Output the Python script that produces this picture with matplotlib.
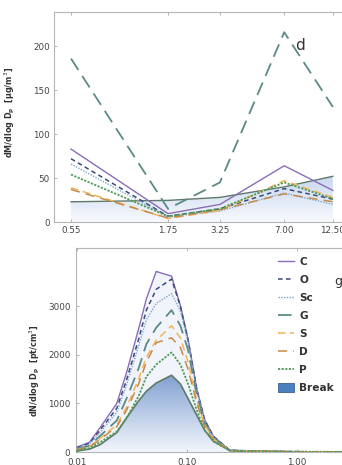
import numpy as np
import matplotlib
matplotlib.use("Agg")
import matplotlib.pyplot as plt
from matplotlib.patches import Polygon, Patch
from matplotlib.lines import Line2D
from matplotlib.colors import LinearSegmentedColormap

# ---------------- data ----------------
series = ["C", "O", "Sc", "G", "S", "D", "P"]

# top panel (mass distribution)
dm_x = [0.55, 1.75, 3.25, 7.00, 12.50]
dm_tick_labels = ["0.55", "1.75", "3.25", "7.00", "12.50"]
dm_C = [83, 9.5, 20, 64, 36]
dm_O = [72, 6.5, 15, 38, 26]
dm_Sc = [66, 6, 12.5, 33, 20]
dm_G = [186, 15, 45, 216, 131]
dm_S = [39, 4, 13, 47, 28]
dm_D = [37, 4.5, 14, 32, 23]
dm_P = [54, 6.5, 15, 45, 26.5]
dm_Break = [23, 24.6, 28, 40, 52]

# bottom panel (number distribution)
dn_x = [0.0100, 0.0130, 0.0162, 0.0230, 0.0282, 0.0363, 0.0427, 0.0525, 0.0724,
        0.0871, 0.1023, 0.1230, 0.1445, 0.1738, 0.2455, 0.35, 0.50, 0.70, 1.00,
        1.50, 2.50, 4.00]
dn_C = [100, 200, 500, 1000, 1634, 2531, 3152, 3717, 3620, 3014, 2324, 1290, 669, 324, 34, 25, 15, 10, 6, 4, 3, 2]
dn_O = [90, 180, 450, 900, 1480, 2320, 2920, 3350, 3560, 3000, 2300, 1280, 660, 320, 34, 25, 15, 10, 6, 4, 3, 2]
dn_Sc = [80, 160, 400, 820, 1380, 2180, 2720, 3060, 3260, 2900, 2250, 1250, 640, 310, 32, 24, 14, 9, 6, 4, 3, 2]
dn_G = [60, 130, 330, 650, 1100, 1720, 2220, 2560, 2920, 2600, 2100, 1150, 600, 290, 30, 22, 13, 8, 5, 4, 3, 2]
dn_S = [50, 110, 280, 560, 920, 1500, 1950, 2300, 2600, 2350, 1850, 1050, 560, 270, 28, 20, 12, 8, 5, 4, 3, 2]
dn_D = [45, 100, 260, 520, 860, 1400, 1850, 2250, 2350, 2150, 1700, 1000, 520, 250, 26, 20, 12, 8, 5, 4, 3, 2]
dn_P = [30, 80, 200, 420, 700, 1150, 1550, 1800, 2050, 1800, 1400, 850, 450, 220, 25, 18, 11, 7, 5, 3, 2, 2]
dn_Break = [20, 60, 150, 400, 700, 1050, 1250, 1420, 1580, 1400, 1100, 750, 450, 220, 30, 18, 10, 6, 4, 3, 2, 1]
dn_ticks = [0.01, 0.10, 1.00]
dn_tick_labels = ["0.01", "0.10", "1.00"]

# ---------------- styles ----------------
styles = {
    "C": dict(color="#8a6cb8", lw=1.0, ls="-"),
    "O": dict(color="#3b4a78", lw=1.1, dashes=(3.0, 2.2)),
    "Sc": dict(color="#7fa6cc", lw=1.0, dashes=(1.0, 1.0)),
    "G": dict(color="#5b8a85", lw=1.3, dashes=(7.5, 4.0)),
    "S": dict(color="#f2b45a", lw=1.1, dashes=(5.0, 3.0)),
    "D": dict(color="#c58a4a", lw=1.1, dashes=(6.0, 4.0)),
    "P": dict(color="#4f9a58", lw=1.3, dashes=(1.2, 0.8)),
}
break_color = "#5f7a68"

fig = plt.figure(figsize=(3.42, 4.65), dpi=100)
W, H = 342.0, 465.0
tick_kw = dict(labelsize=6.3, labelcolor="#444444", color="#aaaaaa", length=2, direction="in", width=0.6)


def style_frame(ax):
    for sp in ax.spines.values():
        sp.set_color("#b5b5b5")
        sp.set_linewidth(0.8)


def gradient_fill(ax, x, y, ymax, c_top, c_bot, xlim):
    cmap = LinearSegmentedColormap.from_list("g", [c_bot, c_top])
    grad = np.linspace(0, 1, 256).reshape(-1, 1)
    im = ax.imshow(grad, aspect="auto", cmap=cmap, origin="lower",
                   extent=[xlim[0], xlim[1], 0, ymax], zorder=1, interpolation="bilinear")
    verts = [(x[0], 0)] + list(zip(x, y)) + [(x[-1], 0)]
    poly = Polygon(verts, closed=True, facecolor="none", edgecolor="none", transform=ax.transData)
    ax.add_patch(poly)
    im.set_clip_path(poly)


def plot_series(ax, x, ydict):
    for name in series:
        st = dict(styles[name])
        kw = dict(color=st["color"], lw=st["lw"], zorder=3)
        if "dashes" in st:
            ax.plot(x, ydict[name], dashes=st["dashes"], **kw)
        else:
            ax.plot(x, ydict[name], ls=st["ls"], **kw)


# ---------------- top panel ----------------
ax1 = fig.add_axes([54 / W, 1 - 222 / H, 300 / W, 210 / H])
xl1 = (0.449, 10 ** (np.log10(0.55) + (354 - 71) / 193.0))
ax1.set_xscale("log")
ax1.set_xlim(*xl1)
ax1.set_ylim(0, 239)
gradient_fill(ax1, dm_x, dm_Break, 60, "#c2d2ee", "#f7f9fd", xl1)
ax1.plot(dm_x, dm_Break, color=break_color, lw=1.0, zorder=3)
plot_series(ax1, dm_x, dict(C=dm_C, O=dm_O, Sc=dm_Sc, G=dm_G, S=dm_S, D=dm_D, P=dm_P))
ax1.set_xticks(dm_x)
ax1.set_xticklabels(dm_tick_labels)
ax1.xaxis.set_minor_locator(matplotlib.ticker.NullLocator())
ax1.set_yticks([0, 50, 100, 150, 200])
ax1.tick_params(axis="both", which="both", pad=3, top=True, right=True, **tick_kw)
style_frame(ax1)
ax1.set_ylabel("dM/dlog D$_\\mathbf{p}$  [μg/m$^3$]", fontsize=5.8, fontweight="bold",
               color="#333333")
ax1.yaxis.set_label_coords(-(54 - 17) / 300.0, 0.52)
fig.text(300 / W, 1 - 45 / H, "d", fontsize=11, color="#333333", ha="center", va="center")

# ---------------- bottom panel ----------------
ax2 = fig.add_axes([76 / W, 1 - 452 / H, 280 / W, 204 / H])
xl2 = (10 ** (-2 - 1 / 110.0), 10 ** (-2 + (356 - 77) / 110.0))
ax2.set_xscale("log")
ax2.set_xlim(*xl2)
ax2.set_ylim(0, 4200)
ax2.fill_between(dn_x, 0, dn_C, color="#f1f5fb", zorder=0.5, lw=0)
gradient_fill(ax2, dn_x, dn_Break, 1650, "#7d9dd0", "#f2f6fc", xl2)
ax2.plot(dn_x, dn_Break, color=break_color, lw=1.2, zorder=3)
plot_series(ax2, dn_x, dict(C=dn_C, O=dn_O, Sc=dn_Sc, G=dn_G, S=dn_S, D=dn_D, P=dn_P))
ax2.set_xticks(dn_ticks)
ax2.set_xticklabels(dn_tick_labels)
ax2.xaxis.set_minor_locator(matplotlib.ticker.NullLocator())
ax2.set_yticks([0, 1000, 2000, 3000])
ax2.tick_params(axis="both", which="both", pad=4, top=True, right=True, **tick_kw)
style_frame(ax2)
ax2.set_ylabel("dN/dlog D$_\\mathbf{p}$  [pt/cm$^3$]", fontsize=5.8, fontweight="bold",
               color="#333333")
ax2.yaxis.set_label_coords(-(76 - 42) / 280.0, 0.40)
fig.text(338 / W, 1 - 281 / H, "g", fontsize=9, color="#333333", ha="center", va="center")

# legend
handles = []
for name in series:
    st = styles[name]
    if "dashes" in st:
        h = Line2D([], [], color=st["color"], lw=st["lw"], dashes=st["dashes"])
    else:
        h = Line2D([], [], color=st["color"], lw=st["lw"], ls=st["ls"])
    handles.append(h)
handles.append(Patch(facecolor="#4a7fc0", edgecolor="#3a5f90", lw=0.6))
leg = fig.legend(handles, series + ["Break"], loc="upper left",
                 bbox_to_anchor=(278 / W, 1 - 257 / H), frameon=False,
                 prop=dict(size=7.6, weight="bold"), handlelength=1.5, handleheight=0.9,
                 handletextpad=0.5, labelspacing=0.76, borderpad=0, borderaxespad=0)
for t in leg.get_texts():
    t.set_color("#333333")

fig.savefig("out.png", dpi=100)
